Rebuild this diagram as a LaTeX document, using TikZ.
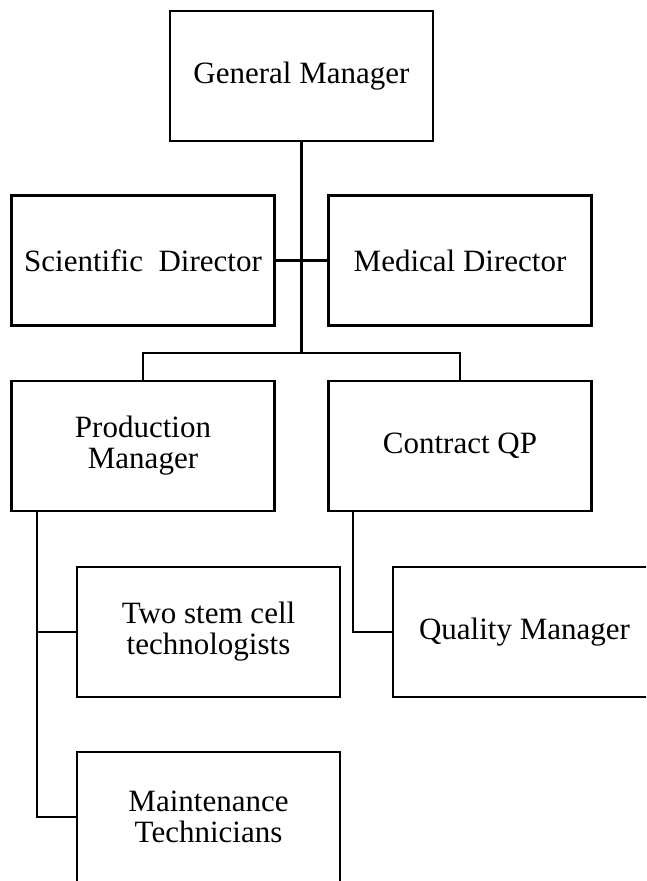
\documentclass[tikz,border=0pt]{standalone}
\usepackage{fontspec}
\setmainfont{Liberation Serif}
\begin{document}
\begin{tikzpicture}[x=1pt,y=-1pt,
  box/.style={draw, line width=2.5pt, minimum width=263pt, minimum height=130pt, inner sep=0pt, align=center, font=\fontsize{31}{31}\selectfont},
  conn/.style={line width=2.5pt}]
\useasboundingbox (0,0) rectangle (646,881);
\clip (0,0) rectangle (646,881);
\node[box] (gm) at (301.5,76) {General Manager};
\node[box] (sd) at (143,260.5) {Scientific\ \ Director};
\node[box] (md) at (460,260.5) {Medical Director};
\node[box] (pm) at (143,446) {Production\\Manager};
\node[box] (cqp) at (460,446) {Contract QP};
\node[box] (tsc) at (208.5,632) {Two stem cell\\technologists};
\node[box] (mt) at (208.5,817) {Maintenance\\Technicians};
\node[box] (qm) at (524.5,632) {Quality Manager};
\coordinate (j1) at (301.5,353);
\draw[conn] (gm.south) -- (j1);
\draw[conn] (sd.east) -- (md.west);
\draw[conn] (pm.north) |- (j1) -| (cqp.north);
\coordinate (pmb) at ([xshift=26.5pt]pm.south west);
\draw[conn] (pmb) |- (mt.west);
\draw[conn] (pmb |- tsc.west) -- (tsc.west);
\coordinate (cqb) at ([xshift=25.5pt]cqp.south west);
\draw[conn] (cqb) |- (qm.west);
\end{tikzpicture}
\end{document}
